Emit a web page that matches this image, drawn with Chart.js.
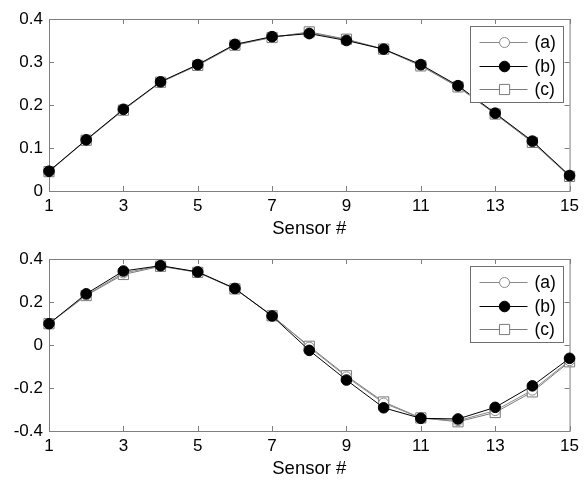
<!DOCTYPE html>
<html><head><meta charset="utf-8">
<script src="https://cdn.jsdelivr.net/npm/chart.js@4.4.1/dist/chart.umd.min.js"></script>
<style>
html,body{margin:0;padding:0;background:#fff;}
.wrap{position:absolute;left:0;width:584px;height:240px;}
</style></head><body>
<div class="wrap" style="top:0"><canvas id="c1" width="584" height="240"></canvas></div>
<div class="wrap" style="top:240px"><canvas id="c2" width="584" height="240"></canvas></div>
<script>
const sensors = [1,2,3,4,5,6,7,8,9,10,11,12,13,14,15];
const xTickValues = [1,3,5,7,9,11,13,15];
const xTickLabels = ['1','3','5','7','9','11','13','15'];
const seriesNames = ['(a)','(b)','(c)'];
const xTitle = 'Sensor #';

// top panel
const topA = [0.046,0.119,0.189,0.253,0.293,0.340,0.358,0.368,0.352,0.329,0.292,0.243,0.180,0.114,0.035];
const topB = [0.046,0.119,0.190,0.254,0.294,0.341,0.359,0.366,0.350,0.330,0.294,0.245,0.181,0.116,0.036];
const topC = [0.045,0.118,0.188,0.253,0.292,0.339,0.357,0.370,0.353,0.330,0.291,0.242,0.179,0.113,0.034];
const topYTicks = [0,0.1,0.2,0.3,0.4];
const topYLabels = ['0','0.1','0.2','0.3','0.4'];

// bottom panel
const botA = [0.100,0.232,0.335,0.368,0.339,0.262,0.137,-0.010,-0.148,-0.270,-0.340,-0.352,-0.305,-0.210,-0.073];
const botB = [0.099,0.238,0.344,0.369,0.340,0.263,0.135,-0.025,-0.163,-0.292,-0.341,-0.344,-0.290,-0.190,-0.062];
const botC = [0.099,0.230,0.328,0.366,0.338,0.261,0.136,-0.006,-0.143,-0.265,-0.339,-0.357,-0.314,-0.218,-0.078];
const botYTicks = [-0.4,-0.2,0,0.2,0.4];
const botYLabels = ['-0.4','-0.2','0','0.2','0.4'];

const FONT = "'Liberation Sans', Arial, sans-serif";
const AXIS_COLOR = '#7f7f7f';
const styles = [
  {line:'#8a8a8a', pointStyle:'circle', radius:5, fill:'#ffffff', stroke:'#8a8a8a'},
  {line:'#000000', pointStyle:'circle', radius:5.3, fill:'#000000', stroke:'#000000'},
  {line:'#7a7a7a', pointStyle:'rect', radius:7.2, fill:'#ffffff', stroke:'#7a7a7a'}
];

const framePlugin = {
  id:'frame',
  beforeDatasetsDraw(chart){
    const {ctx, chartArea:a, scales:{x,y}} = chart;
    ctx.save();
    ctx.strokeStyle = AXIS_COLOR; ctx.lineWidth = 1;
    ctx.strokeRect(a.left+0.5, a.top+0.5, a.right-a.left, a.bottom-a.top);
    ctx.beginPath();
    x.ticks.forEach(t=>{
      const px = Math.round(x.getPixelForValue(t.value))+0.5;
      ctx.moveTo(px, a.bottom); ctx.lineTo(px, a.bottom-5);
      ctx.moveTo(px, a.top); ctx.lineTo(px, a.top+5);
    });
    y.ticks.forEach(t=>{
      const py = Math.round(y.getPixelForValue(t.value))+0.5;
      ctx.moveTo(a.left, py); ctx.lineTo(a.left+5, py);
      ctx.moveTo(a.right, py); ctx.lineTo(a.right-5, py);
    });
    ctx.stroke();
    ctx.restore();
  }
};

function drawMarker(ctx, s, cx, cy){
  ctx.beginPath();
  if (s.pointStyle === 'rect'){
    const h = s.radius*Math.SQRT1_2;
    ctx.rect(cx-h, cy-h, 2*h, 2*h);
  } else {
    ctx.arc(cx, cy, s.radius, 0, Math.PI*2);
  }
  ctx.fillStyle = s.fill; ctx.fill();
  ctx.strokeStyle = s.stroke; ctx.lineWidth = 1; ctx.stroke();
}

const legendPlugin = {
  id:'boxLegend',
  afterDraw(chart){
    const {ctx, chartArea:a} = chart;
    const right = a.right - 7, top = a.top + 7, w = 93, h = 76;
    const left = right - w;
    ctx.save();
    ctx.fillStyle = '#ffffff';
    ctx.fillRect(left, top, w, h);
    ctx.strokeStyle = '#6f6f6f'; ctx.lineWidth = 1;
    ctx.strokeRect(Math.round(left)+0.5, Math.round(top)+0.5, w, h);
    ctx.font = '17.5px ' + FONT;
    ctx.textBaseline = 'middle';
    ctx.textAlign = 'left';
    seriesNames.forEach((name,i)=>{
      const cy = Math.round(top + 16 + i*23.5) + 0.5;
      const s = styles[i];
      ctx.beginPath();
      ctx.moveTo(left+10, cy); ctx.lineTo(left+58, cy);
      ctx.strokeStyle = s.line; ctx.lineWidth = 1; ctx.stroke();
      drawMarker(ctx, s, left+35, cy);
      ctx.fillStyle = '#000';
      ctx.fillText(name, left+65, cy+1);
    });
    ctx.restore();
  }
};

function makeDatasets(arrs){
  return arrs.map((arr,i)=>({
    label: seriesNames[i],
    data: sensors.map((s,j)=>({x:s, y:arr[j]})),
    borderColor: styles[i].line,
    borderWidth: 1,
    pointStyle: styles[i].pointStyle,
    pointRadius: styles[i].radius,
    pointBackgroundColor: styles[i].fill,
    pointBorderColor: styles[i].stroke,
    pointBorderWidth: 1,
    tension: 0,
    clip: false,
    order: i===1 ? 0 : (i===0 ? 1 : 2)
  }));
}

function makeChart(id, arrs, yTicks, yLabels){
  return new Chart(document.getElementById(id), {
    type:'line',
    data:{ datasets: makeDatasets(arrs) },
    options:{
      responsive:false,
      animation:false,
      events:[],
      layout:{ padding:{ top:19, right:10, left:0, bottom:0 } },
      plugins:{ legend:{display:false}, tooltip:{enabled:false} },
      scales:{
        x:{
          type:'linear', min:1, max:15,
          afterBuildTicks(scale){ scale.ticks = xTickValues.map(v=>({value:v})); },
          afterFit(scale){ scale.height = 49; },
          grid:{ display:false, drawTicks:false },
          border:{ display:false },
          ticks:{ color:'#000', padding:5, font:{family:FONT, size:17},
            callback:(v,i)=>xTickLabels[i], maxRotation:0, autoSkip:false },
          title:{ display:true, text:xTitle, color:'#000', font:{family:FONT, size:18.5}, padding:{top:0,bottom:0} }
        },
        y:{
          type:'linear', min:yTicks[0], max:yTicks[yTicks.length-1],
          afterBuildTicks(scale){ scale.ticks = yTicks.map(v=>({value:v})); },
          afterFit(scale){ scale.width = 49; },
          grid:{ display:false, drawTicks:false },
          border:{ display:false },
          ticks:{ color:'#000', padding:6, font:{family:FONT, size:17},
            callback:(v,i)=>yLabels[i], autoSkip:false }
        }
      }
    },
    plugins:[framePlugin, legendPlugin]
  });
}

makeChart('c1', [topA, topB, topC], topYTicks, topYLabels);
makeChart('c2', [botA, botB, botC], botYTicks, botYLabels);
</script>
</body></html>
